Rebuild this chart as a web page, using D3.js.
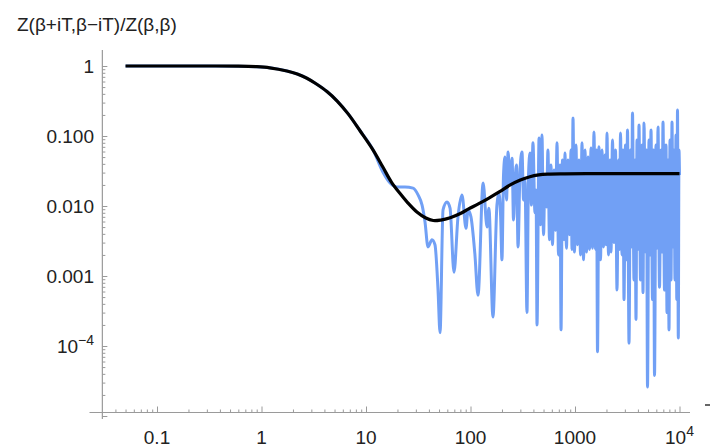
<!DOCTYPE html>
<html>
<head>
<meta charset="utf-8">
<script src="https://cdn.jsdelivr.net/npm/d3@7"></script>
<style>
  body { margin: 0; background: #fff; }
  svg { font-family: "Liberation Sans", Arial, Helvetica, sans-serif; }
</style>
</head>
<body>
<script>
// smooth average curve (black)
var blackT = [0.05, 0.3, 0.6, 0.9, 1.2, 1.75, 2.2, 2.72, 3.3, 4.23, 5.3, 6.75, 8.8, 11.7, 14.5, 17.5, 21,
              25, 30.7, 37, 44, 52, 64, 80, 95, 120, 150, 190, 240, 300, 370, 450, 550, 800, 1500, 3000, 10000];
var blackZ = [1, 1, 0.995, 0.977, 0.942, 0.848, 0.768, 0.669, 0.562, 0.432, 0.316, 0.207, 0.118, 0.063, 0.036, 0.022, 0.0153,
              0.0112, 0.0082, 0.0068, 0.0062, 0.0063, 0.0068, 0.0078, 0.009, 0.0108, 0.013, 0.016, 0.02, 0.0235, 0.0262, 0.0278, 0.0285, 0.0288, 0.029, 0.029, 0.029];

// single realisation (blue), [T, Z]
var blueSeries = [
  [0.05, 1], [0.3, 1], [0.6, 0.995], [0.9, 0.977], [1.2, 0.942], [1.75, 0.848], [2.2, 0.768], [2.72, 0.669],
  [3.3, 0.562], [4.23, 0.432], [5.3, 0.316], [6.75, 0.207], [8.8, 0.118], [11.7, 0.063],
  [14.5, 0.0306], [17.0, 0.0213], [19.8, 0.0187], [23.6, 0.0187], [28.2, 0.018], [31.5, 0.0144], [34.4, 0.0103],
  [36.7, 0.0059], [39.2, 0.0026], [42.8, 0.0033], [45.7, 0.0028], [48.9, 0.00063], [51.1, 0.000155], [54.6, 0.0088],
  [59.6, 0.0114], [63.7, 0.0093], [69.5, 0.00113], [75.9, 0.007], [82.9, 0.0144], [90.6, 0.0048], [94.6, 0.0088],
  [101, 0.007], [110, 0.0021], [118, 0.00053], [132, 0.0213], [144, 0.005], [150, 0.0093], [164, 0.00026],
  [179, 0.0103], [187, 0.0153], [194, 0.0074], [200, 0.0017], [207, 0.0277], [214, 0.05], [221, 0.0122], [229, 0.059],
  [239, 0.02], [250, 0.048], [258, 0.0063], [267, 0.0235], [276, 0.0385], [285, 0.0026], [298, 0.0327], [311, 0.059],
  [322, 0.0122], [332, 0.0235], [347, 0.0003], [359, 0.0277], [371, 0.057], [383, 0.0103], [396, 0.08], [414, 0.008],
  [424, 0.0169], [433, 0.0002], [453, 0.094],
  [468, 0.0054], [483, 0.103], [500, 0.0039], [516, 0.0277], [534, 0.0097], [551, 0.0631], [570, 0.0033], [589, 0.0385],
  [609, 0.0028], [630, 0.0327], [651, 0.0045], [673, 0.08], [695, 0.002], [719, 0.0385], [735, 0.00017], [759, 0.0454],
  [785, 0.0033], [802, 0.057], [829, 0.0025], [857, 0.0454], [886, 0.0039], [916, 0.0631], [936, 0.0024], [957, 0.181],
  [989, 0.0022], [1022, 0.0744], [1057, 0.0028], [1092, 0.0454], [1129, 0.002], [1167, 0.08], [1206, 0.0017], [1247, 0.0631],
  [1289, 0.0022], [1332, 0.05], [1377, 0.0024], [1423, 0.0675], [1471, 0.0025], [1519, 0.114], [1571, 0.0024], [1606, 0.0631],
  [1642, 0.000083], [1697, 0.07], [1754, 0.0017], [1813, 0.0631], [1874, 0.0026], [1937, 0.0535], [1980, 0.0028], [2024, 0.11],
  [2092, 0.002], [2162, 0.0454], [2211, 0.0022], [2285, 0.0877], [2362, 0.003], [2441, 0.0631], [2523, 0.00063], [2608, 0.0454],
  [2666, 0.0024], [2725, 0.11], [2817, 0.002], [2879, 0.0631], [2944, 0.00046], [3043, 0.0744], [3110, 0.0017], [3180, 0.122],
  [3287, 0.00011], [3398, 0.0631], [3473, 0.0026], [3550, 0.213], [3669, 0.00088], [3751, 0.0454], [3834, 0.00024], [3920, 0.0877],
  [4008, 0.0024], [4097, 0.144], [4235, 0.00088], [4377, 0.0744], [4475, 0.00058], [4575, 0.153], [4728, 0.0022], [4834, 0.0631],
  [4941, 0.000026], [5107, 0.0877], [5221, 0.002], [5338, 0.122], [5516, 0.00046], [5640, 0.0631], [5766, 0.000038], [5959, 0.0744],
  [6092, 0.0025], [6229, 0.134], [6437, 0.00069], [6653, 0.0631], [6801, 0.0022], [6953, 0.159], [7187, 0.00063], [7426, 0.0744],
  [7592, 0.0003], [7762, 0.0454], [7935, 0.00017], [8113, 0.0877], [8294, 0.00088], [8479, 0.159], [8669, 0.0026], [8862, 0.0631],
  [9056, 0.00088], [9259, 0.103], [9423, 0.00046], [9570, 0.235], [9739, 0.00013], [9890, 0.0631], [10000, 0.0277]
];

// axis ticks and labels
var xTicks = [0.1, 1, 10, 100, 1000, 10000];
var xTickLabels = ["0.1", "1", "10", "100", "1000", "10^4"];
var yTicks = [1, 0.1, 0.01, 0.001, 0.0001];
var yTickLabels = ["1", "0.100", "0.010", "0.001", "10^\u22124"];
var yMajorTicks = [1, 0.1, 0.01, 0.001, 0.0001, 0.00001];
var title = "Z(\u03B2+iT,\u03B2\u2212iT)/Z(\u03B2,\u03B2)";

var w = 710, h = 447;
var svg = d3.select("body").append("svg")
    .attr("width", w)
    .attr("height", h);

var x = d3.scaleLog().domain([0.1, 10000]).range([157, 679.5]);
var y = d3.scaleLog().domain([0.0001, 1]).range([346, 66]);

var axisX = x(0.03);   // where the vertical axis sits
var axisY = 412.5;     // where the horizontal axis sits
var axisColor = "#9a9a9a";

//minor ticks on a log scale
function minors(lo, hi) {
    var out = [];
    for (var k = lo; k <= hi; k++) {
        for (var m = 2; m <= 9; m++) out.push(m * Math.pow(10, k));
    }
    return out;
}
var xMinor = minors(-2, 3).filter(function(v){ return x(v) > axisX + 2 && x(v) < 690; });
var yMinor = minors(-5, -1).filter(function(v){ return y(v) > 50 && y(v) < 420; });

//axis lines
svg.append("line")
    .attr("x1", 89.5).attr("x2", 690)
    .attr("y1", axisY).attr("y2", axisY)
    .attr("stroke", axisColor).attr("stroke-width", 1.2);
svg.append("line")
    .attr("x1", axisX).attr("x2", axisX)
    .attr("y1", 50).attr("y2", 419)
    .attr("stroke", axisColor).attr("stroke-width", 1.2);

function tickGroup(axis, transform) {
    var g = svg.append("g")
        .attr("transform", transform)
        .attr("color", axisColor)
        .call(axis);
    g.select(".domain").remove();
    g.selectAll(".tick line").attr("stroke-width", 1);
    g.selectAll(".tick text").remove();
    return g;
}

tickGroup(d3.axisTop(x).tickValues(xTicks).tickSize(6).tickFormat(""), "translate(0," + axisY + ")");
tickGroup(d3.axisTop(x).tickValues(xMinor).tickSize(3).tickFormat(""), "translate(0," + axisY + ")");
tickGroup(d3.axisRight(y).tickValues(yMajorTicks).tickSize(5).tickFormat(""), "translate(" + axisX + ",0)");
tickGroup(d3.axisRight(y).tickValues(yMinor).tickSize(3).tickFormat(""), "translate(" + axisX + ",0)");

//labels with optional superscript written as base^exp
function addLabel(sel, label) {
    var parts = label.split("^");
    sel.append("tspan").text(parts[0]);
    if (parts.length > 1) {
        sel.append("tspan")
            .attr("font-size", 14)
            .attr("dy", -8)
            .text(parts[1]);
    }
}

svg.selectAll(".xlabel")
    .data(xTicks)
    .enter()
    .append("text")
    .attr("class", "xlabel")
    .attr("x", function(d){ return x(d); })
    .attr("y", 444)
    .attr("text-anchor", "middle")
    .attr("font-size", 19)
    .attr("fill", "#222")
    .each(function(d, i){ addLabel(d3.select(this), xTickLabels[i]); });

svg.selectAll(".ylabel")
    .data(yTicks)
    .enter()
    .append("text")
    .attr("class", "ylabel")
    .attr("x", 94)
    .attr("y", function(d){ return y(d) + 6.5; })
    .attr("text-anchor", "end")
    .attr("font-size", 19)
    .attr("fill", "#222")
    .each(function(d, i){ addLabel(d3.select(this), yTickLabels[i]); });

//title
svg.append("text")
    .attr("x", 17)
    .attr("y", 30.5)
    .attr("font-size", 19)
    .attr("fill", "#222")
    .text(title);

//bit of the cut off axis label at the right edge
svg.append("line")
    .attr("x1", 705).attr("x2", 710)
    .attr("y1", 405).attr("y2", 405)
    .attr("stroke", "#333").attr("stroke-width", 1.5);

//curves
var blueLine = d3.line()
    .x(function(d){ return x(d[0]); })
    .y(function(d){ return y(d[1]); })
    .curve(d3.curveMonotoneX);

var blackLine = d3.line()
    .x(function(d){ return x(d[0]); })
    .y(function(d){ return y(d[1]); })
    .curve(d3.curveCatmullRom.alpha(0.5));

svg.append("path")
    .datum(blueSeries)
    .attr("d", blueLine)
    .attr("fill", "none")
    .attr("stroke", "#71a0f5")
    .attr("stroke-width", 3)
    .attr("stroke-linejoin", "round");

var blackSeries = blackT.map(function(t, i){ return [t, blackZ[i]]; });
svg.append("path")
    .datum(blackSeries)
    .attr("d", blackLine)
    .attr("fill", "none")
    .attr("stroke", "#000")
    .attr("stroke-width", 3.2);
</script>
</body>
</html>
